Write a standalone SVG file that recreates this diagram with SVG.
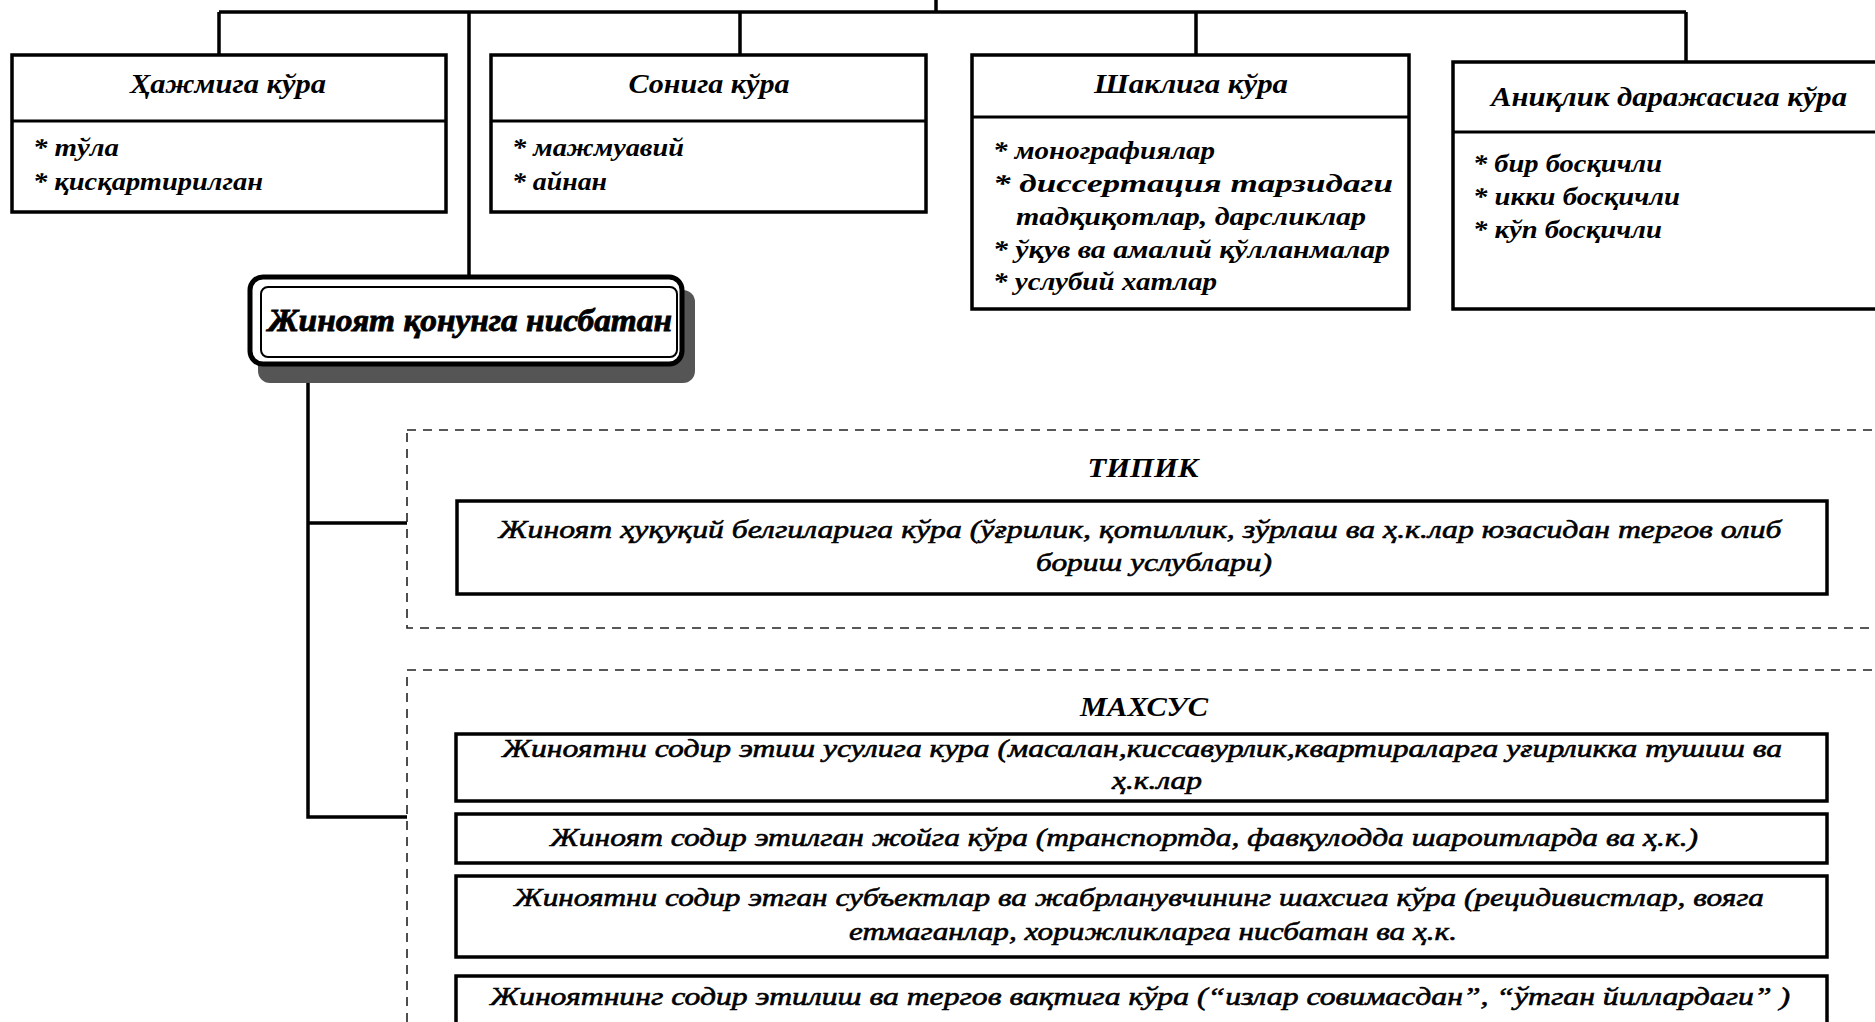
<svg xmlns="http://www.w3.org/2000/svg" width="1875" height="1022" viewBox="0 0 1875 1022">
<style>
.box{fill:#fff;stroke:#000;stroke-width:3.5}
.div{stroke:#000;stroke-width:3}
.con{fill:none;stroke:#000;stroke-width:3.5}
.dash{fill:none;stroke:#222;stroke-width:1.6;stroke-dasharray:9 7}
.h{font-family:"Liberation Serif","DejaVu Serif",serif;font-style:italic;font-weight:bold;font-size:27px;fill:#000}
.t{font-family:"Liberation Serif","DejaVu Serif",serif;font-style:italic;font-size:26px;fill:#000;stroke:#000;stroke-width:0.6}
.tb{font-family:"Liberation Serif","DejaVu Serif",serif;font-style:italic;font-weight:bold;font-size:26px;fill:#000}
.m{font-family:"Liberation Serif","DejaVu Serif",serif;font-style:italic;font-weight:bold;font-size:31px;fill:#000;stroke:#000;stroke-width:0.8}
</style>
<rect width="1875" height="1022" fill="#fff"/>
<g id="connectors">
<path class="con" d="M936 0V12M219 12H1686M219 12V55M469 12V279M740 12V55M1196 12V55M1686 12V62"/>
<path class="con" d="M308 380V817H407M308 523H407"/>
</g>
<g id="n-hajm">
<rect class="box" x="12" y="55" width="434" height="157"/>
<line class="div" x1="12" y1="121" x2="446" y2="121"/>
<text class="h" x="228" y="93" text-anchor="middle" textLength="196" lengthAdjust="spacingAndGlyphs">Ҳажмига кўра</text>
<text class="tb" x="33" y="156" textLength="86" lengthAdjust="spacingAndGlyphs">* тўла</text>
<text class="tb" x="33" y="190" textLength="230" lengthAdjust="spacingAndGlyphs">* қисқартирилган</text>
</g>
<g id="n-soni">
<rect class="box" x="491" y="55" width="435" height="157"/>
<line class="div" x1="491" y1="121" x2="926" y2="121"/>
<text class="h" x="709" y="93" text-anchor="middle" textLength="161" lengthAdjust="spacingAndGlyphs">Сонига кўра</text>
<text class="tb" x="512" y="156" textLength="172" lengthAdjust="spacingAndGlyphs">* мажмуавий</text>
<text class="tb" x="512" y="190" textLength="95" lengthAdjust="spacingAndGlyphs">* айнан</text>
</g>
<g id="n-shakl">
<rect class="box" x="972" y="55" width="437" height="254"/>
<line class="div" x1="972" y1="117" x2="1409" y2="117"/>
<text class="h" x="1191" y="93" text-anchor="middle" textLength="194" lengthAdjust="spacingAndGlyphs">Шаклига кўра</text>
<text class="tb" x="993" y="159" textLength="222" lengthAdjust="spacingAndGlyphs">* монографиялар</text>
<text class="tb" x="993" y="192" textLength="400" lengthAdjust="spacingAndGlyphs">*   диссертация  тарзидаги</text>
<text class="tb" x="1016" y="225" textLength="350" lengthAdjust="spacingAndGlyphs">тадқиқотлар, дарсликлар</text>
<text class="tb" x="993" y="258" textLength="397" lengthAdjust="spacingAndGlyphs">* ўқув ва амалий қўлланмалар</text>
<text class="tb" x="993" y="290" textLength="224" lengthAdjust="spacingAndGlyphs">* услубий хатлар</text>
</g>
<g id="n-aniq">
<rect class="box" x="1453" y="62" width="440" height="247"/>
<line class="div" x1="1453" y1="132" x2="1880" y2="132"/>
<text class="h" x="1491" y="106" textLength="356" lengthAdjust="spacingAndGlyphs">Аниқлик  даражасига кўра</text>
<text class="tb" x="1473" y="172" textLength="189" lengthAdjust="spacingAndGlyphs">* бир босқичли</text>
<text class="tb" x="1473" y="205" textLength="207" lengthAdjust="spacingAndGlyphs">* икки босқичли</text>
<text class="tb" x="1473" y="238" textLength="189" lengthAdjust="spacingAndGlyphs">* кўп босқичли</text>
</g>
<g id="n-jinoyat">
<rect x="258" y="290" width="437" height="93" rx="12" fill="#555"/>
<rect x="250" y="277" width="432" height="87" rx="13" fill="#fff" stroke="#000" stroke-width="5"/>
<rect x="261" y="287" width="416" height="70" rx="7" fill="#fff" stroke="#000" stroke-width="2"/>
<text class="m" x="268" y="331" textLength="404" lengthAdjust="spacingAndGlyphs">Жиноят қонунга нисбатан</text>
</g>
<g id="n-tipik">
<rect class="dash" x="407" y="430" width="1480" height="198"/>
<text class="h" x="1143" y="477" text-anchor="middle" textLength="111" lengthAdjust="spacingAndGlyphs">ТИПИК</text>
<rect class="box" x="457" y="501" width="1370" height="93"/>
<text class="t" x="1140" y="538" text-anchor="middle" textLength="1283" lengthAdjust="spacingAndGlyphs">Жиноят  ҳуқуқий белгиларига кўра (ўғрилик, қотиллик, зўрлаш ва ҳ.к.лар юзасидан тергов олиб</text>
<text class="t" x="1154" y="571" text-anchor="middle" textLength="236" lengthAdjust="spacingAndGlyphs">бориш  услублари)</text>
</g>
<g id="n-maxsus">
<rect class="dash" x="407" y="670" width="1480" height="400"/>
<text class="h" x="1144" y="716" text-anchor="middle" textLength="128" lengthAdjust="spacingAndGlyphs">МАХСУС</text>
</g>
<g id="n-usul">
<rect class="box" x="456" y="734" width="1371" height="67"/>
<text class="t" x="1142" y="757" text-anchor="middle" textLength="1280" lengthAdjust="spacingAndGlyphs">Жиноятни содир этиш усулига кура (масалан,киссавурлик,квартираларга уғирликка тушиш ва</text>
<text class="t" x="1157" y="789" text-anchor="middle" textLength="90" lengthAdjust="spacingAndGlyphs">ҳ.к.лар</text>
</g>
<g id="n-joy">
<rect class="box" x="456" y="814" width="1371" height="49"/>
<text class="t" x="1124" y="846" text-anchor="middle" textLength="1148" lengthAdjust="spacingAndGlyphs">Жиноят содир этилган жойга кўра (транспортда, фавқулодда шароитларда ва ҳ.к.)</text>
</g>
<g id="n-subekt">
<rect class="box" x="456" y="876" width="1371" height="81"/>
<text class="t" x="1139" y="906" text-anchor="middle" textLength="1250" lengthAdjust="spacingAndGlyphs">Жиноятни содир этган субъектлар ва жабрланувчининг шахсига кўра (рецидивистлар, вояга</text>
<text class="t" x="1153" y="940" text-anchor="middle" textLength="608" lengthAdjust="spacingAndGlyphs">етмаганлар, хорижликларга нисбатан ва ҳ.к.</text>
</g>
<g id="n-vaqt">
<rect class="box" x="456" y="976" width="1371" height="60"/>
<text class="t" x="1140" y="1005" text-anchor="middle" textLength="1300" lengthAdjust="spacingAndGlyphs">Жиноятнинг содир этилиш ва тергов вақтига  кўра (“излар совимасдан”, “ўтган йиллардаги” )</text>
</g>
</svg>
